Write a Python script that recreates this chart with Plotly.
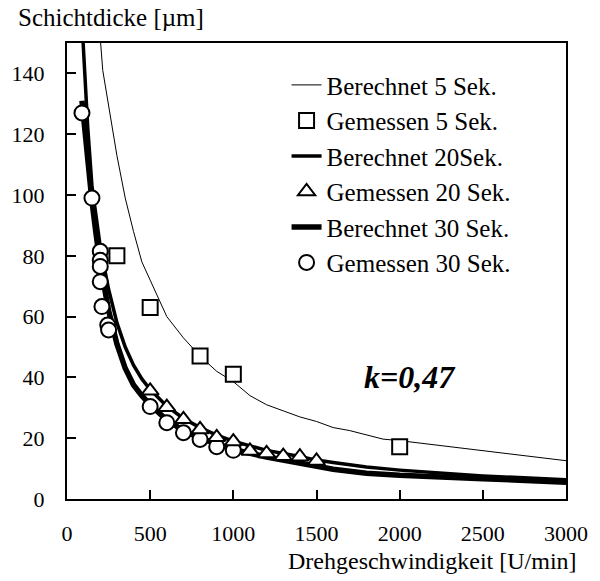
import plotly.graph_objects as go

# Berechnete Schichtdicke, 5 Sekunden Schleuderzeit
calc5_rpm = [195, 215, 300, 350, 400, 450, 500, 600, 700, 800, 900, 1000, 1100, 1200,
             1300, 1400, 1500, 1600, 1700, 1800, 1900, 2000, 2500, 3000]
calc5_um = [155, 141, 113, 99, 88, 78, 72, 60, 53, 47, 42, 38.6, 34, 31,
            29, 27, 25.5, 23.5, 22.5, 21, 19.7, 19.2, 15.9, 12.6]

# Gemessene Schichtdicke, 5 Sekunden
meas5_rpm = [300, 500, 800, 1000, 2000]
meas5_um = [80, 63, 47, 41, 17.2]

# Berechnete Schichtdicke, 20 Sekunden
calc20_rpm = [95, 100, 125, 150, 175, 200, 250, 300, 350, 400, 450, 500, 600, 700, 800,
              900, 1000, 1200, 1400, 1500, 1600, 1800, 2000, 2500, 3000]
calc20_um = [152, 146, 122, 103, 92, 83, 69, 58, 50, 44, 39.5, 36, 30.5, 26.5, 23.5,
             21, 19, 16, 14, 12.8, 12.0, 10.5, 9.5, 7.6, 6.3]

# Gemessene Schichtdicke, 20 Sekunden
meas20_rpm = [500, 600, 700, 800, 900, 1000, 1100, 1200, 1300, 1400, 1500]
meas20_um = [35.6, 30.2, 26.2, 22.9, 20.3, 18.9, 15.8, 15.0, 14.1, 13.9, 12.5]

# Berechnete Schichtdicke, 30 Sekunden
calc30_rpm = [90, 100, 125, 150, 175, 200, 250, 300, 350, 400, 450, 500, 600, 700, 800,
              900, 1000, 1200, 1400, 1500, 1600, 1800, 2000, 2500, 3000]
calc30_um = [131, 125, 110, 98, 87, 77, 62, 51, 43, 37.5, 34, 31, 26, 22.5, 20,
             18, 16.3, 13.8, 11.6, 10.6, 9.8, 8.5, 7.8, 6.7, 5.5]

# Gemessene Schichtdicke, 30 Sekunden
meas30_rpm = [90, 150, 200, 200, 200, 200, 210, 245, 250, 500, 600, 700, 800, 900, 1000]
meas30_um = [127, 99, 81.5, 78.5, 76.5, 71.5, 63.3, 57.2, 55.6, 30.4, 25.1, 21.8, 19.6, 17.2, 16.0]

x_ticks = [0, 500, 1000, 1500, 2000, 2500, 3000]
y_ticks = [0, 20, 40, 60, 80, 100, 120, 140]

SERIF = "Liberation Serif, Times New Roman, DejaVu Serif, serif"
BLACK = "black"

fig = go.Figure()

# Curves first, measured markers on top of them
fig.add_trace(go.Scatter(x=calc5_rpm, y=calc5_um, mode="lines", name="Berechnet 5 Sek.",
                         line=dict(color=BLACK, width=1), legendrank=1))
fig.add_trace(go.Scatter(x=calc20_rpm, y=calc20_um, mode="lines", name="Berechnet 20Sek.",
                         line=dict(color=BLACK, width=3.5), legendrank=3))
fig.add_trace(go.Scatter(x=calc30_rpm, y=calc30_um, mode="lines", name="Berechnet 30 Sek.",
                         line=dict(color=BLACK, width=5.5), legendrank=5))
fig.add_trace(go.Scatter(x=meas5_rpm, y=meas5_um, mode="markers", name="Gemessen 5 Sek.",
                         marker=dict(symbol="square", size=15, color="white",
                                     line=dict(color=BLACK, width=2)), legendrank=2))
fig.add_trace(go.Scatter(x=meas30_rpm, y=meas30_um, mode="markers", name="Gemessen 30 Sek.",
                         marker=dict(symbol="circle", size=15, color="white",
                                     line=dict(color=BLACK, width=2)), legendrank=6))
fig.add_trace(go.Scatter(x=meas20_rpm, y=meas20_um, mode="markers", name="Gemessen 20 Sek.",
                         marker=dict(symbol="triangle-up", size=15, color="white",
                                     line=dict(color=BLACK, width=2)), legendrank=4))

axis_common = dict(showgrid=False, zeroline=False, showline=True, linecolor=BLACK,
                   linewidth=2, mirror=True, ticks="inside", ticklen=9, tickwidth=1.5,
                   tickcolor=BLACK, tickfont=dict(family=SERIF, size=22, color=BLACK))

fig.update_xaxes(range=[0, 3000], tickvals=x_ticks, ticklabelstandoff=14, **axis_common)
fig.update_yaxes(range=[0, 150], tickvals=y_ticks, ticklabelstandoff=16, **axis_common)

fig.add_annotation(text="Schichtdicke [µm]", xref="paper", yref="paper",
                   x=-0.103, y=1.055, xanchor="left", yanchor="middle", showarrow=False,
                   font=dict(family=SERIF, size=25, color=BLACK))
fig.add_annotation(text="Drehgeschwindigkeit [U/min]", xref="paper", yref="paper",
                   x=1.026, y=-0.137, xanchor="right", yanchor="middle", showarrow=False,
                   font=dict(family=SERIF, size=24, color=BLACK))
fig.add_annotation(text="<b><i>k=0,47</i></b>", x=2060, y=40, showarrow=False,
                   font=dict(family=SERIF, size=32, color=BLACK))

fig.update_layout(
    width=600, height=581,
    margin=dict(l=64, r=33, t=43, b=82),
    paper_bgcolor="white", plot_bgcolor="white",
    legend=dict(x=0.44, y=0.958, xanchor="left", yanchor="top",
                bgcolor="rgba(0,0,0,0)", font=dict(family=SERIF, size=25, color=BLACK),
                itemwidth=30),
)

fig.write_html("out.html")
